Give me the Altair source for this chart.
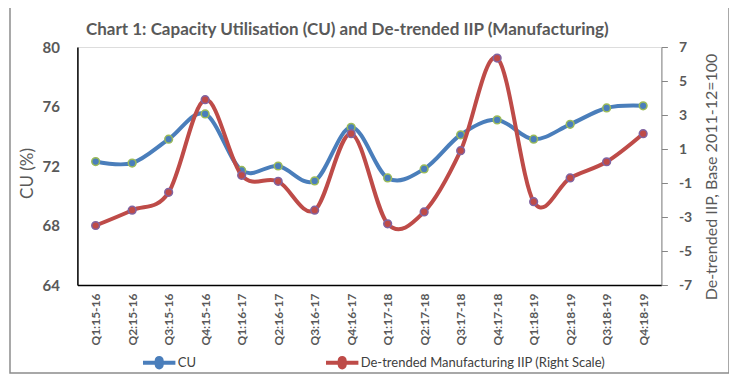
import altair as alt
import pandas as pd

quarters = ["Q1:15-16", "Q2:15-16", "Q3:15-16", "Q4:15-16",
            "Q1:16-17", "Q2:16-17", "Q3:16-17", "Q4:16-17",
            "Q1:17-18", "Q2:17-18", "Q3:17-18", "Q4:17-18",
            "Q1:18-19", "Q2:18-19", "Q3:18-19", "Q4:18-19"]
cu = [72.3, 72.2, 73.8, 75.5, 71.7, 72.0, 71.0, 74.6,
      71.2, 71.8, 74.1, 75.1, 73.8, 74.8, 75.9, 76.05]
iip = [-3.5, -2.6, -1.55, 3.9, -0.55, -0.9, -2.6, 1.9,
       -3.4, -2.7, 0.9, 6.35, -2.1, -0.7, 0.25, 1.9]
series_names = ["CU", "De-trended Manufacturing IIP (Right Scale)"]
left_ticks = [64, 68, 72, 76, 80]
right_ticks = [-7, -5, -3, -1, 1, 3, 5, 7]

line_colors = ["#4A7EBB", "#BE4B48"]
marker_edges = ["#9BBB59", "#8064A2"]

rows = []
for q, a, b in zip(quarters, cu, iip):
    rows.append({"q": q, "series": series_names[0], "value": a,
                 "mk": marker_edges[0], "lc": line_colors[0]})
    rows.append({"q": q, "series": series_names[1], "value": b,
                 "mk": marker_edges[1], "lc": line_colors[1]})
df = pd.DataFrame(rows)

GRAY = "#595959"
FONT = "Lato"

x_enc = alt.X("q:N", sort=quarters, scale=alt.Scale(padding=0.5),
              axis=alt.Axis(title=None, labelAngle=-90, labelFont=FONT, labelFontSize=12,
                            labelFontWeight="bold", labelColor=GRAY, ticks=False,
                            domainColor="#000000", domainWidth=1.5, labelPadding=8,
                            labelBaseline="middle", labelAlign="right"))

legend_shape = ("M-1,-0.13 L-0.28,-0.13 A0.28,0.28 0 0,1 0.28,-0.13 L1,-0.13 L1,0.13 "
                "L0.28,0.13 A0.28,0.28 0 0,1 -0.28,0.13 L-1,0.13 Z")
fill_enc = alt.Fill("series:N", scale=alt.Scale(domain=series_names, range=line_colors),
                    legend=alt.Legend(title=None, orient="none", direction="horizontal",
                                      legendX=65.3, legendY=299, symbolType=legend_shape,
                                      symbolSize=1050, symbolStrokeWidth=0, labelFont=FONT,
                                      labelFontSize=13, labelColor="#404040", columnPadding=129,
                                      labelOffset=2, symbolOpacity=1, labelLimit=400))

def series_layer(name, domain, axis):
    base = alt.Chart(df).transform_filter(alt.datum.series == name)
    y_enc = alt.Y("value:Q", scale=alt.Scale(domain=domain, nice=False, zero=False), axis=axis)
    line = base.mark_line(interpolate="cardinal", strokeWidth=4).encode(
        x=x_enc, y=y_enc, stroke=alt.Stroke("lc:N", scale=None))
    pts = base.mark_point(filled=True, size=60, strokeWidth=1.5, opacity=1).encode(
        x=x_enc, y=y_enc, fill=fill_enc, stroke=alt.Stroke("mk:N", scale=None))
    return alt.layer(line, pts)

left_axis = alt.Axis(title="CU (%)", values=left_ticks, ticks=False, grid=False,
                     labelFont=FONT, labelFontSize=15, labelFontWeight="bold", labelColor=GRAY,
                     labelPadding=18, domainColor="#000000", domainWidth=1.5,
                     titleFont=FONT, titleFontSize=17, titleFontWeight="normal", titleColor=GRAY,
                     titleX=-50, titleY=126, titleAngle=270, titleBaseline="middle", titleAlign="center")
right_axis = alt.Axis(title="De-trended IIP, Base 2011-12=100", orient="right", values=right_ticks,
                      grid=False, tickSize=6, tickColor="#868686", domainColor="#868686",
                      labelFont=FONT, labelFontSize=14, labelFontWeight="bold", labelColor=GRAY,
                      labelPadding=11, labelExpr="'' + datum.value",
                      titleFont=FONT, titleFontSize=16, titleFontWeight="normal",
                      titleColor=GRAY, titleX=50.3, titleY=129.5, titleAngle=270,
                      titleBaseline="middle", titleAlign="center")

cu_layer = series_layer(series_names[0], [64, 80], left_axis)
iip_layer = series_layer(series_names[1], [-7, 7], right_axis)

frame = alt.Chart(pd.DataFrame({"a": [0]})).mark_rect(
    fill=None, stroke="#8C8C8C", strokeWidth=1.5).encode(
    x=alt.value(-67.4), x2=alt.value(651.6), y=alt.value(-40), y2=alt.value(326))

chart = alt.layer(frame, cu_layer, iip_layer).resolve_scale(y="independent").properties(
    width=584, height=238,
    title=alt.TitleParams("Chart 1: Capacity Utilisation (CU) and De-trended IIP (Manufacturing)",
                          anchor="start", frame="group", font=FONT, fontSize=17, fontWeight="bold",
                          color=GRAY, dx=8.6, offset=0, dy=46, baseline="alphabetic"),
    padding={"left": 69.4, "top": 39, "right": 67.6, "bottom": 90},
    autosize=alt.AutoSizeParams(type="none"),
).configure_view(stroke=None).configure(background="white")

chart.save("out.html", embed_options={"renderer": "svg", "actions": False})
